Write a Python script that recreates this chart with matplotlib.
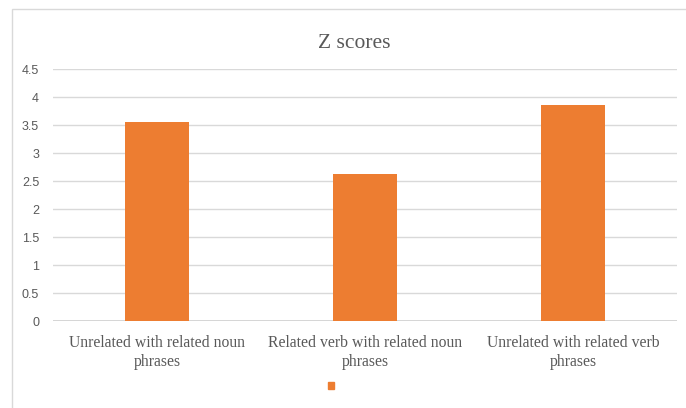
import matplotlib.pyplot as plt
from matplotlib.patches import Rectangle

categories = ["Unrelated with related noun\nphrases",
              "Related verb with related noun\nphrases",
              "Unrelated with related verb\nphrases"]
z_scores = [3.55, 2.62, 3.86]
y_ticks = [0, 0.5, 1, 1.5, 2, 2.5, 3, 3.5, 4, 4.5]
y_labels = ["0", "0.5", "1", "1.5", "2", "2.5", "3", "3.5", "4", "4.5"]

W, H = 686, 408
fig = plt.figure(figsize=(W / 100, H / 100), dpi=100)

# outer chart frame (only top/left edges fall inside the image)
fig.patches.append(Rectangle((12 / W, -0.1), 1.2, 1 - 9 / H + 0.1,
                             transform=fig.transFigure, fill=False,
                             edgecolor="#d9d9d9", lw=1.0))

ax = fig.add_axes([53 / W, 1 - 321 / H, (677 - 53) / W, (321 - 69) / H])
x = range(len(categories))
ax.bar(x, z_scores, width=0.31, color="#ED7D31", zorder=3)

ax.set_xlim(-0.5, 2.5)
ax.set_ylim(0, 4.5)
ax.set_yticks(y_ticks)
ax.set_yticklabels(y_labels, family="Liberation Sans", fontsize=9, color="#595959")
ax.set_xticks(list(x))
ax.set_xticklabels(categories, family="Liberation Serif", fontsize=11.3,
                   color="#595959", linespacing=1.25)
ax.tick_params(length=0, pad=10)
ax.tick_params(axis="y", pad=10)
ax.grid(axis="y", color="#d9d9d9", lw=1.0, zorder=0)
for s in ax.spines.values():
    s.set_visible(False)
ax.axhline(0, color="#d0d0d0", lw=1.2, zorder=2)

fig.text(354 / W, 1 - 44 / H, "Z scores", family="Liberation Serif",
         fontsize=15.5, color="#595959", ha="center", va="center")

# legend swatch with no label
fig.patches.append(Rectangle((328 / W, 1 - 389 / H), 6 / W, 7 / H,
                             transform=fig.transFigure, color="#ED7D31"))

fig.savefig("out.png", dpi=100)
